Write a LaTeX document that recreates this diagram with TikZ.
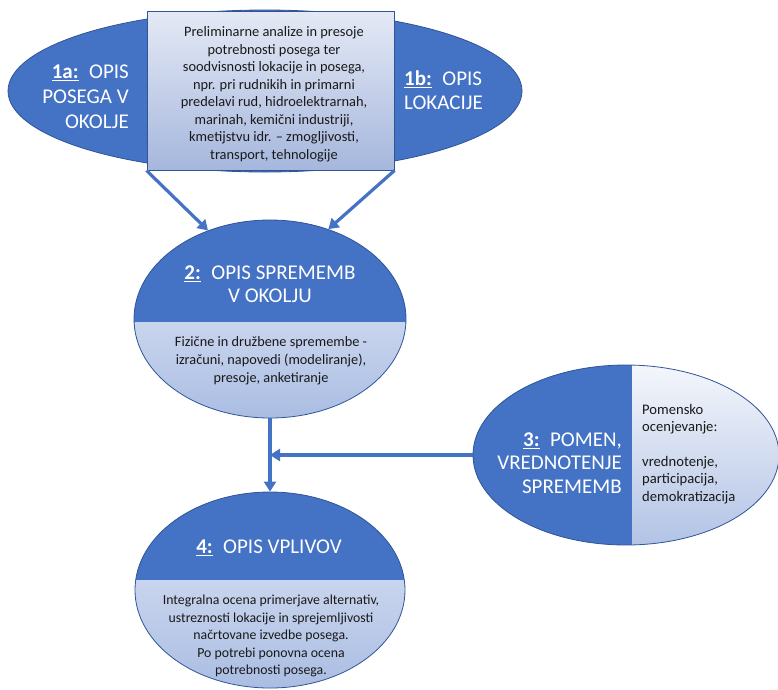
\documentclass[tikz,border=0pt]{standalone}
\usepackage{fontspec}
\setmainfont{Carlito}
\usetikzlibrary{shapes.geometric,arrows.meta}
\definecolor{dblue}{HTML}{4472C4}
\definecolor{bline}{HTML}{2F5597}
\definecolor{ltop}{HTML}{E4E9F5}
\definecolor{lbot}{HTML}{A6B7DD}
\definecolor{mtop}{HTML}{C9D5EE}
\definecolor{mbot}{HTML}{AABDE2}
\definecolor{wtop}{HTML}{F4F6FB}
\definecolor{wbot}{HTML}{B2C3E5}
\begin{document}
\begin{tikzpicture}[x=1pt,y=-1pt,
  ell/.style={ellipse, draw=bline, line width=0.8pt, inner sep=0pt},
  title/.style={text=white, inner sep=0pt, font=\fontsize{21}{23}\selectfont},
  small/.style={text=black!90, inner sep=0pt, align=center},
  conn/.style={draw=dblue, line width=3.2pt, -{Triangle[width=12pt,length=10pt]}}
]
\useasboundingbox (0,0) rectangle (778,689);

% --- top ellipse with rectangle
\node[ell, fill=dblue, minimum width=514pt, minimum height=162pt] (e1) at (265,91) {};
\node[draw=bline, line width=1pt, top color=ltop, bottom color=lbot,
      minimum width=247pt, minimum height=159pt, inner sep=0pt] (r) at (270.5,90.5) {};
\node[small, font=\fontsize{14.4}{17.5}\selectfont] (rt) at (274,94)
  {Preliminarne analize in presoje\\potrebnosti posega ter\\soodvisnosti lokacije in posega,\\npr. pri rudnikih in primarni\\predelavi rud, hidroelektrarnah,\\marinah, kemični industriji,\\kmetijstvu idr. – zmogljivosti,\\transport, tehnologije};
\node[title, align=right, anchor=east, font=\fontsize{21}{25}\selectfont] (t1a) at (129,97)
  {\underline{\textbf{1a:}}\enspace OPIS\\POSEGA V\\OKOLJE};
\node[title, align=left, anchor=west, font=\fontsize{21}{24}\selectfont] (t1b) at (404,90)
  {\underline{\textbf{1b:}}\enspace OPIS\\LOKACIJE};

% --- ellipse 2
\node[ell, minimum width=272pt, minimum height=198pt,
  path picture={
    \fill[dblue] (path picture bounding box.north west) rectangle ([yshift=-3pt]path picture bounding box.east);
    \shade[top color=mtop, bottom color=mbot] ([yshift=-3pt]path picture bounding box.west) rectangle (path picture bounding box.south east);
  }] (e2) at (270,319) {};
\node[title, align=center] (t2) at (270,284) {\underline{\textbf{2:}}\enspace OPIS SPREMEMB\\V OKOLJU};
\node[small, font=\fontsize{14.3}{18}\selectfont] (d2) at (271,360.5)
  {Fizične in družbene spremembe -\\izračuni, napovedi (modeliranje),\\presoje, anketiranje};

% --- ellipse 3
\node[ell, minimum width=306pt, minimum height=180pt,
  path picture={
    \fill[dblue] (path picture bounding box.north west) rectangle ([xshift=6pt]path picture bounding box.south);
    \shade[top color=wtop, bottom color=wbot] ([xshift=6pt]path picture bounding box.north) rectangle (path picture bounding box.south east);
  }] (e3) at (626,455) {};
\node[title, align=right, anchor=east, font=\fontsize{21}{23.5}\selectfont] (t3) at (622,463)
  {\underline{\textbf{3:}}\enspace POMEN,\\VREDNOTENJE\\SPREMEMB};
\node[small, align=left, anchor=west, font=\fontsize{14.6}{17.5}\selectfont] (d3) at (642,454)
  {Pomensko\\ocenjevanje:\\[17pt]vrednotenje,\\participacija,\\demokratizacija};

% --- ellipse 4
\node[ell, minimum width=270pt, minimum height=196pt,
  path picture={
    \fill[dblue] (path picture bounding box.north west) rectangle ([yshift=10pt]path picture bounding box.east);
    \shade[top color=mtop, bottom color=mbot] ([yshift=10pt]path picture bounding box.west) rectangle (path picture bounding box.south east);
  }] (e4) at (270,590) {};
\node[title] (t4) at (269,548) {\underline{\textbf{4:}}\enspace OPIS VPLIVOV};
\node[small, font=\fontsize{13.8}{17.5}\selectfont] (d4) at (271,636)
  {Integralna ocena primerjave alternativ,\\ustreznosti lokacije in sprejemljivosti\\načrtovane izvedbe posega.\\Po potrebi ponovna ocena\\potrebnosti posega.};

% --- connectors
\draw[conn] (r.south west) -- (e2.125);
\draw[conn] (r.south east) -- (e2.57);
\draw[conn] (e2.south) -- (e4.north);
\coordinate (j) at (e2.south |- e3.west);
\draw[conn] (e3.west) -- (j);
\end{tikzpicture}
\end{document}
